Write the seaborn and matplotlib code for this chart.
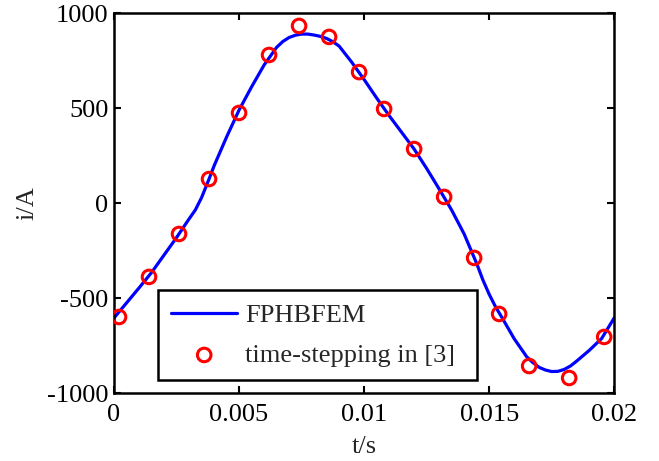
import matplotlib
matplotlib.use("Agg")
import matplotlib.pyplot as plt
import seaborn as sns
import pandas as pd

# FPHBFEM curve
curve_t = [0.0, 0.0005, 0.001, 0.0015, 0.002, 0.0025, 0.003, 0.00325, 0.0035, 0.0038,
           0.004, 0.0045, 0.005, 0.0055, 0.006, 0.0065, 0.00675, 0.007, 0.00725, 0.0075,
           0.00775, 0.008, 0.00825, 0.0085, 0.00875, 0.009, 0.0095, 0.01, 0.0105, 0.011,
           0.0115, 0.012, 0.0125, 0.013, 0.0135, 0.014, 0.0145, 0.01475, 0.015, 0.01525,
           0.0155, 0.016, 0.0165, 0.01675, 0.017, 0.01725, 0.0175, 0.01775, 0.018, 0.01825,
           0.0185, 0.019, 0.0195, 0.02]
curve_i = [-605, -526, -447, -366, -274, -182, -84, -37, 28, 126,
           195, 347, 489, 611, 726, 819, 850, 871, 883, 889,
           889, 884, 877, 866, 849, 826, 742, 650, 553, 460,
           372, 284, 182, 74, -37, -163, -318, -405, -480, -545,
           -600, -714, -809, -840, -865, -879, -887, -886, -876, -858,
           -832, -776, -713, -605]

# time-stepping in [3] points
ts_t = [0.0002, 0.0014, 0.0026, 0.0038, 0.005, 0.0062, 0.0074, 0.0086, 0.0098,
        0.0108, 0.012, 0.0132, 0.0144, 0.0154, 0.0166, 0.0182, 0.0196]
ts_i = [-600, -389, -163, 126, 474, 779, 932, 874, 689,
        495, 284, 32, -289, -584, -858, -921, -705]

x_ticks = [0, 0.005, 0.01, 0.015, 0.02]
x_ticklabels = ["0", "0.005", "0.01", "0.015", "0.02"]
y_ticks = [-1000, -500, 0, 500, 1000]
y_ticklabels = ["-1000", "-500", "0", "500", "1000"]

sns.set_style("ticks")
plt.rcParams["font.family"] = ["Liberation Serif", "DejaVu Serif"]

fig = plt.figure(figsize=(6.59, 4.61), dpi=100)
ax = fig.add_axes([0.173, 0.1475, 0.759, 0.8243])

df_curve = pd.DataFrame({"t": curve_t, "i": curve_i})
df_pts = pd.DataFrame({"t": ts_t, "i": ts_i})

sns.lineplot(data=df_curve, x="t", y="i", ax=ax, color="#0000ff", linewidth=2.3,
             label="FPHBFEM", sort=False)
sns.scatterplot(data=df_pts, x="t", y="i", ax=ax, s=95, marker="o",
                facecolors="none", edgecolor="#ff0000", linewidth=2.2,
                label="time-stepping in [3]", zorder=3)

ax.set_xlim(0, 0.02)
ax.set_ylim(-1000, 1000)
ax.set_xticks(x_ticks)
ax.set_xticklabels(x_ticklabels)
ax.set_yticks(y_ticks)
ax.set_yticklabels(y_ticklabels)
ax.tick_params(direction="in", length=5, width=1.5, labelsize=19,
               top=True, right=True, colors="black")
ax.tick_params(axis="x", pad=8)
ax.tick_params(axis="y", pad=4)
for sp in ax.spines.values():
    sp.set_visible(True)
    sp.set_linewidth(1.8)
    sp.set_color("black")

ax.set_xlabel("t/s", fontsize=19, labelpad=7)
ax.set_ylabel("i/A", fontsize=19, labelpad=6)

leg = ax.legend(loc="lower left", bbox_to_anchor=(0.088, 0.034, 0.638, 0.23),
                mode="expand", fontsize=19,
                frameon=True, fancybox=False, edgecolor="black", framealpha=1,
                handlelength=2.5, borderpad=0.5, labelspacing=0.62,
                handletextpad=0.3, borderaxespad=0)
leg.get_frame().set_linewidth(1.8)

fig.savefig("out.png", dpi=100)
